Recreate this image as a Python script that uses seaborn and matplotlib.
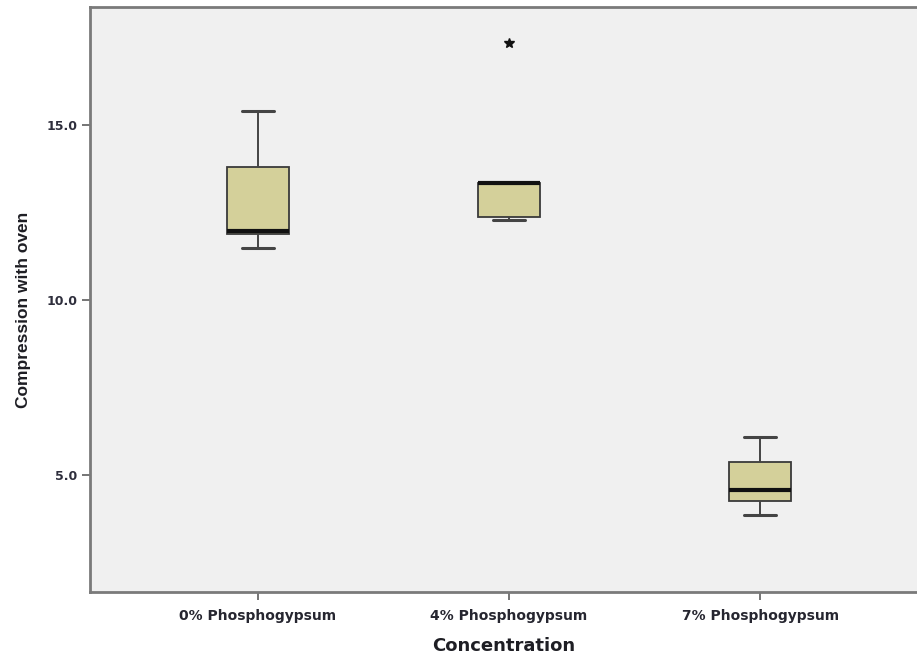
import matplotlib
matplotlib.use("Agg")
import matplotlib.pyplot as plt
import seaborn as sns
import pandas as pd

# Data
categories = ["0% Phosphogypsum", "4% Phosphogypsum", "7% Phosphogypsum"]
values_0 = [11.5, 11.9, 11.98, 13.81, 15.4]
values_4 = [12.3, 12.38, 12.38, 12.9, 13.33, 13.33, 13.33, 13.33, 17.33]
values_7 = [3.86, 4.27, 4.57, 5.38, 6.08]
y_ticks = [5.0, 10.0, 15.0]

df = pd.DataFrame({
    "Concentration": [categories[0]] * len(values_0)
    + [categories[1]] * len(values_4)
    + [categories[2]] * len(values_7),
    "Compression with oven": values_0 + values_4 + values_7,
})

sns.set_theme(style="white")
plt.rcParams["font.family"] = ["DejaVu Sans"]

fig = plt.figure(figsize=(9.17, 6.55), dpi=100)
ax = fig.add_axes([90 / 917, 63 / 655, 1 - 90 / 917, (592 - 7) / 655])
ax.set_facecolor("#f0f0f0")

sns.boxplot(
    data=df, x="Concentration", y="Compression with oven", order=categories,
    ax=ax, width=0.25, color="#d4d09a", linecolor="#3a3a3a", linewidth=1.3,
    whis=1.5, saturation=1,
    medianprops=dict(color="#111111", linewidth=3),
    whiskerprops=dict(color="#444444", linewidth=1.4),
    capprops=dict(color="#444444", linewidth=2.2),
    flierprops=dict(marker="*", markersize=7, markerfacecolor="#111111",
                    markeredgecolor="#111111"),
)

ax.set_xlim(-0.669, 2.625)
ax.set_ylim(1.66, 18.37)
ax.set_yticks(y_ticks)
ax.set_yticklabels([f"{v:.1f}" for v in y_ticks], fontsize=9,
                   fontweight="bold", color="#2e2e3c")
ax.set_xticks(range(len(categories)))
ax.set_xticklabels(categories, fontsize=10, fontweight="bold",
                   color="#262630")

for side in ["left", "bottom", "top"]:
    ax.spines[side].set_color("#7a7a7a")
    ax.spines[side].set_linewidth(2)
ax.spines["right"].set_visible(False)
ax.tick_params(axis="both", direction="out", length=6, width=1.3,
               color="#6a6a6a", left=True, bottom=True)
ax.tick_params(axis="x", pad=6)
ax.tick_params(axis="y", pad=3)

ax.set_xlabel("Concentration", fontsize=13, fontweight="bold",
              color="#1e1e24", labelpad=10)
ax.set_ylabel("Compression with oven", fontsize=12.5, fontweight="bold",
              color="#1e1e24", family="Liberation Sans")
ax.yaxis.set_label_coords(-0.071, 0.482)

fig.savefig("out.png", dpi=100)
